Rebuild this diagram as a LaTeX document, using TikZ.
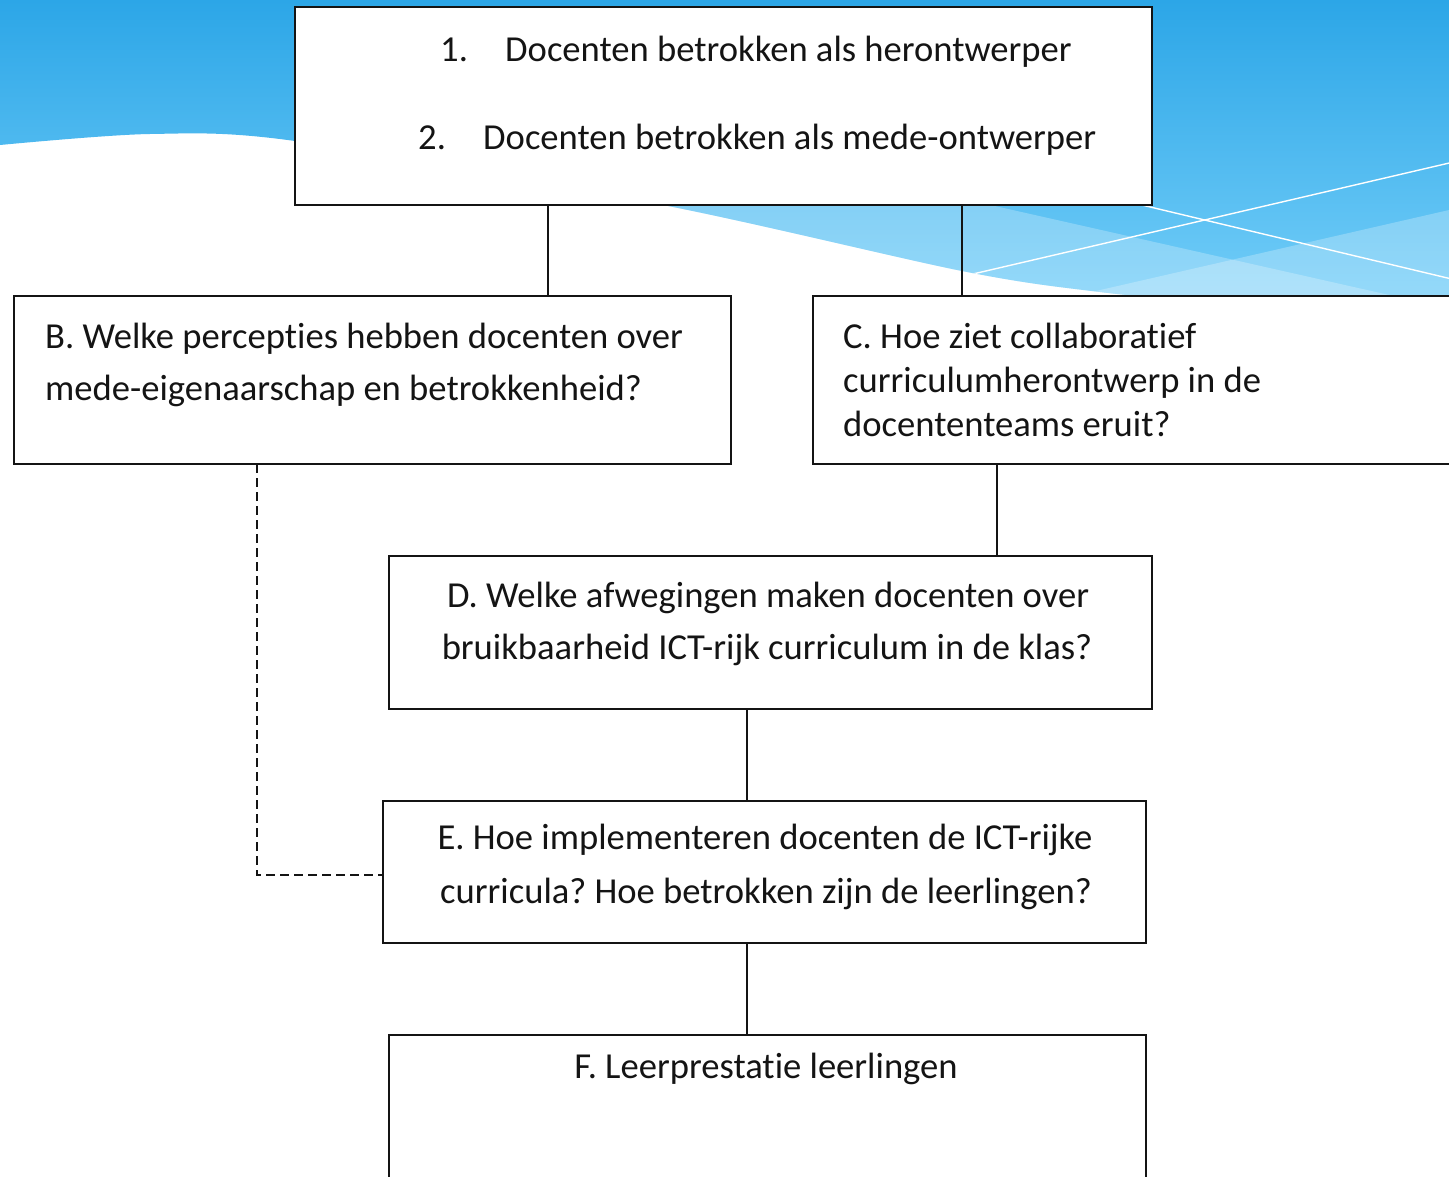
\documentclass[tikz,border=0pt]{standalone}
\usepackage{fontspec}
\setmainfont{Carlito}[Ligatures=NoCommon]
\frenchspacing
\definecolor{bgtop}{RGB}{44,166,231}
\definecolor{bgbot}{RGB}{114,205,248}
\definecolor{ink}{RGB}{20,20,20}
\begin{document}
\begin{tikzpicture}[x=1pt,y=-1pt,
  box/.style={draw=ink, line width=2.2pt, fill=white, inner sep=0pt, outer sep=0pt},
  txt/.style={font=\fontsize{36.6}{44}\selectfont, inner sep=0pt, text=ink},
  link/.style={draw=ink, line width=2.2pt},
  dlink/.style={draw=ink, line width=2.2pt, dash pattern=on 9pt off 5pt}]
\useasboundingbox (0,0) rectangle (1449,1177);
\fill[white] (0,0) rectangle (1449,1177);
% background swoosh
\begin{scope}
  \clip (0,0) -- plot[smooth] coordinates {(0,145) (150,134) (295,141) (663,205) (962,271) (1100,292) (1300,312) (1460,330)} -- (1460,0) -- cycle;
  \shade[top color=bgtop, bottom color=bgbot] (0,0) rectangle (1460,300);
  \fill[white, opacity=0.25] (450,83) -- (1460,311) -- (1460,400) -- (450,400) -- cycle;
  \fill[white, opacity=0.25] (1000,313) -- (1460,207.5) -- (1460,400) -- (1000,400) -- cycle;
  \draw[white, line width=1.4pt] (900,291) -- (1460,160.5);
  \draw[white, line width=1.4pt] (1100,195) -- (1460,281);
\end{scope}
% boxes
\node[box, minimum width=857pt, minimum height=198pt] (A) at (723.5,106) {};
\node[box, minimum width=717pt, minimum height=168pt] (B) at (372.5,380) {};
\node[box, minimum width=647pt, minimum height=168pt] (C) at (1136.5,380) {};
\node[box, minimum width=763pt, minimum height=153pt] (D) at (770.5,632.5) {};
\node[box, minimum width=763pt, minimum height=142pt] (E) at (764.5,872) {};
\node[box, minimum width=757pt, minimum height=165pt] (F) at (767.5,1117.5) {};
% connector columns
\coordinate (ab) at (548,0);
\coordinate (ac) at (962,0);
\coordinate (cd) at (997,0);
\coordinate (de) at (747,0);
\coordinate (bd) at (257,0);
\coordinate (ej) at (0,875);
\draw[link] (A.south -| ab) -- (B.north -| ab);
\draw[link] (A.south -| ac) -- (C.north -| ac);
\draw[link] (C.south -| cd) -- (D.north -| cd);
\draw[link] (D.south -| de) -- (E.north -| de);
\draw[link] (E.south -| de) -- (F.north -| de);
\draw[dlink] (B.south -| bd) |- (E.west |- ej);
% texts
\node[txt, anchor=mid west] (a1n) at (440,59) {1.};
\node[txt, anchor=mid west] (a1) at (505,59) {Docenten betrokken als herontwerper};
\node[txt, anchor=mid west] (a2n) at (418,147) {2.};
\node[txt, anchor=mid west] (a2) at (483,147) {Docenten betrokken als mede-ontwerper};
\node[txt, anchor=mid west] (b1) at (45,346) {B. Welke percepties hebben docenten over};
\node[txt, anchor=mid west] (b2) at (45,398) {mede-eigenaarschap en betrokkenheid?};
\node[txt, anchor=mid west] (c1) at (843,346) {C. Hoe ziet collaboratief};
\node[txt, anchor=mid west] (c2) at (843,390) {curriculumherontwerp in de};
\node[txt, anchor=mid west] (c3) at (843,434) {docententeams eruit?};
\node[txt, anchor=mid] (d1) at (768,605) {D. Welke afwegingen maken docenten over};
\node[txt, anchor=mid] (d2) at (767,657) {bruikbaarheid ICT-rijk curriculum in de klas?};
\node[txt, anchor=mid] (e1) at (765,847) {E. Hoe implementeren docenten de ICT-rijke};
\node[txt, anchor=mid] (e2) at (766,901) {curricula? Hoe betrokken zijn de leerlingen?};
\node[txt, anchor=mid] (f1) at (766,1076) {F. Leerprestatie leerlingen};
\end{tikzpicture}
\end{document}
